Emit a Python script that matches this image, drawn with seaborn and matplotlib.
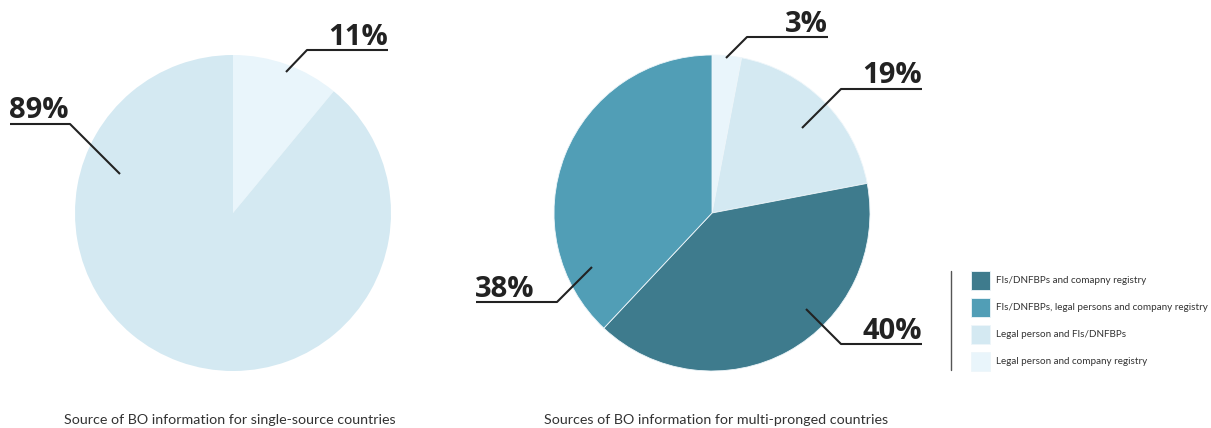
import matplotlib
matplotlib.use("Agg")
import matplotlib.pyplot as plt
import seaborn as sns

# data
single_labels = ["Legal person and company registry", "Legal person and FIs/DNFBPs"]
single_values = [11, 89]

multi_labels = ["Legal person and company registry", "Legal person and FIs/DNFBPs",
                "FIs/DNFBPs and comapny registry", "FIs/DNFBPs, legal persons and company registry"]
multi_values = [3, 19, 40, 38]

legend_order = ["FIs/DNFBPs and comapny registry", "FIs/DNFBPs, legal persons and company registry",
                "Legal person and FIs/DNFBPs", "Legal person and company registry"]

titles = ["Source of BO information for single-source countries",
          "Sources of BO information for multi-pronged countries"]

palette = {
    "FIs/DNFBPs and comapny registry": "#3E7B8D",
    "FIs/DNFBPs, legal persons and company registry": "#519EB6",
    "Legal person and FIs/DNFBPs": "#D4E9F2",
    "Legal person and company registry": "#E9F5FB",
}

sns.set_theme(style="white")
plt.rcParams["font.family"] = ["Lato", "DejaVu Sans"]

W, H = 1211, 428
fig = plt.figure(figsize=(W / 100, H / 100), dpi=100)


def pie_axes(cx, cy, r):
    return fig.add_axes([(cx - r) / W, (H - cy - r) / H, 2 * r / W, 2 * r / H])


ax1 = pie_axes(233, 213, 158)
ax2 = pie_axes(712, 213, 158)

ax1.pie(single_values, colors=[palette[l] for l in single_labels], startangle=90,
        counterclock=False, wedgeprops=dict(linewidth=0))
wedges, _ = ax2.pie(multi_values, colors=[palette[l] for l in multi_labels], startangle=90,
                    counterclock=False, wedgeprops=dict(linewidth=0.6, edgecolor="#eef6fa"))
for ax in (ax1, ax2):
    ax.set_xlim(-1, 1)
    ax.set_ylim(-1, 1)
    ax.axis("off")

# overlay in pixel coordinates for callouts
ov = fig.add_axes([0, 0, 1, 1], facecolor="none")
ov.set_xlim(0, W)
ov.set_ylim(H, 0)
ov.axis("off")

callouts = [
    # text, line path, text x, baseline y, align
    ("11%", [(286, 72), (307, 50), (388, 50)], 388, 45, "right"),
    ("89%", [(120, 174), (70, 124), (10, 124)], 9, 118, "left"),
    ("3%", [(726, 58), (747, 37), (828, 37)], 828, 32, "right"),
    ("19%", [(802, 128), (841, 89), (922, 89)], 922, 83, "right"),
    ("38%", [(592, 267), (557, 302), (476, 302)], 475, 297, "left"),
    ("40%", [(806, 309), (841, 344), (922, 344)], 922, 339, "right"),
]
for txt, path, tx, ty, ha in callouts:
    xs, ys = zip(*path)
    ov.plot(xs, ys, color="#222222", lw=1.5, solid_capstyle="butt")
    ov.text(tx, ty, txt, ha=ha, va="baseline", fontsize=21, fontweight="bold",
            family=["Open Sans", "DejaVu Sans"], color="#222222")

ov.text(230, 420, titles[0], ha="center", va="center", fontsize=10.3, color="#333333")
ov.text(716, 420, titles[1], ha="center", va="center", fontsize=10.3, color="#333333")

# legend: fit the longest label to ~212 px wide
renderer = fig.canvas.get_renderer()
probe = ov.text(0, 0, legend_order[1], fontsize=10)
probe_w = probe.get_window_extent(renderer).width
probe.remove()
lfs = 10 * 211 / probe_w
fpx = lfs * 100 / 72

# matplotlib legend box height = fs * (0.65 * handleheight + 0.245)
hh = (19 / fpx - 0.245) / 0.65

ov.plot([951, 951], [271, 370], color="#555555", lw=1)
handles = [wedges[multi_labels.index(l)] for l in legend_order]
ov.legend(handles, legend_order, loc="upper left", bbox_to_anchor=(971, 271),
          bbox_transform=ov.transData, frameon=False, fontsize=lfs,
          handlelength=19 / fpx, handleheight=hh, handletextpad=6 / fpx,
          labelspacing=8 / fpx, borderpad=0, borderaxespad=0, labelcolor="#333333")

fig.savefig("out.png", dpi=100)
